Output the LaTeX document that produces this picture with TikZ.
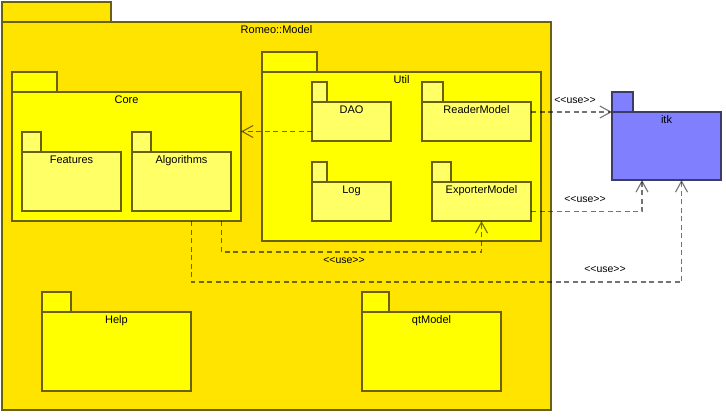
\documentclass[tikz,border=0pt]{standalone}
\usepackage{fontspec}
\newfontfamily\diagfont{Liberation Sans}
\usetikzlibrary{arrows.meta,fit,calc}
\definecolor{outerY}{RGB}{255,228,0}
\definecolor{midY}{RGB}{255,255,0}
\definecolor{lightY}{RGB}{255,255,102}
\definecolor{itkblue}{RGB}{128,128,255}
\definecolor{olive}{RGB}{105,98,10}
\definecolor{bluedark}{RGB}{60,60,105}
\tikzset{
  pkgbody/.style={draw=olive, line width=1.2pt, inner sep=0pt, outer sep=0pt},
  pkglbl/.style={font=\diagfont\fontsize{11}{13}\selectfont, anchor=base, inner sep=0pt},
  dep/.style={draw=black, draw opacity=0.55, line width=1.4pt, dash pattern=on 5pt off 3.5pt,
    -{Straight Barb[length=11pt,width=12pt,line width=1.1pt]}},
  uselbl/.style={font=\diagfont\fontsize{10.5}{12}\selectfont, inner sep=0pt, anchor=base}
}
\newcommand\umlpkg[9][olive]{%
  \coordinate (#2-nw) at (#3,#4);
  \coordinate (#2-se) at (#5,#6);
  \node[pkgbody, draw=#1, fill=#8, anchor=south west, minimum width=#7pt, minimum height=20pt] (#2-tab) at (#3,#4) {};
  \node[pkgbody, draw=#1, fill=#8, fit=(#2-nw)(#2-se)] (#2) {};
  \node[pkglbl] (#2-lbl) at ([yshift=-11.5pt]#2.north) {#9};
}
\newcommand\uselabel{<\kern0pt<use>\kern0pt>}
\begin{document}
\begin{tikzpicture}[x=1pt,y=-1pt]
\useasboundingbox (0,0) rectangle (726,416);
% outer package
\umlpkg{romeo}{2}{22}{551}{410}{109}{outerY}{Romeo::Model}
% Core
\umlpkg{core}{12}{92}{241}{221}{45}{midY}{Core}
\umlpkg{features}{22}{152}{121}{211}{19}{lightY}{Features}
\umlpkg{algorithms}{132}{152}{231}{211}{19}{lightY}{Algorithms}
% Util
\umlpkg{util}{262}{72}{541}{241}{55}{midY}{Util}
\umlpkg{dao}{312}{102}{391}{141}{15}{lightY}{DAO}
\umlpkg{reader}{422}{102}{531}{141}{21}{lightY}{ReaderModel}
\umlpkg{log}{312}{182}{391}{221}{15}{lightY}{Log}
\umlpkg{exporter}{432}{182}{531}{221}{19}{lightY}{ExporterModel}
% Help, qtModel
\umlpkg{help}{42}{312}{191}{391}{29}{midY}{Help}
\umlpkg{qtmodel}{362}{312}{501}{391}{27}{midY}{qtModel}
% itk
\umlpkg[bluedark]{itk}{612}{112}{721}{180}{21}{itkblue}{itk}

% connectors
\coordinate (d1) at ([yshift=-10pt]dao.west);
\draw[dep] (d1) -- (d1 -| core.east);

\coordinate (r1) at (reader.east |- itk.north west);
\draw[dep] (r1) -- (itk.north west);
\node[uselbl] (ul1) at (575,103) {\uselabel};

\coordinate (e1) at ([yshift=9.5pt]exporter.south east);
\coordinate (i1) at ([xshift=30pt]itk.south west);
\draw[dep] (e1) -| (i1);
\node[uselbl] (ul2) at (585,202) {\uselabel};

\coordinate (c1) at ([xshift=-19.5pt]core.south east);
\draw[dep] (c1) -- ++(0,31) -| (exporter.south);
\node[uselbl] (ul3) at (344,263) {\uselabel};

\coordinate (c2) at ([xshift=-49.5pt]core.south east);
\coordinate (i2) at ([xshift=69.5pt]itk.south west);
\draw[dep] (c2) -- ++(0,61) -| (i2);
\node[uselbl] (ul4) at (605,272) {\uselabel};
\end{tikzpicture}
\end{document}
